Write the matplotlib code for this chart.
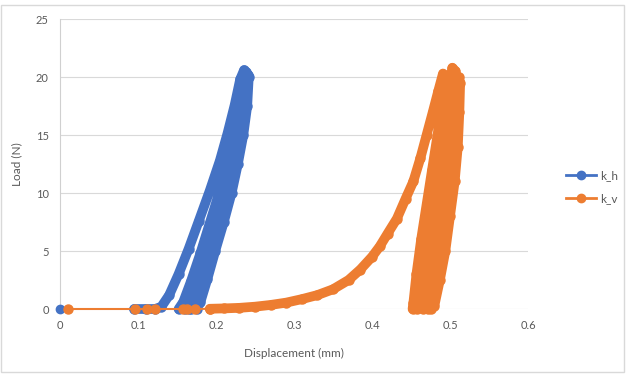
import matplotlib.pyplot as plt
from matplotlib.lines import Line2D
from matplotlib.patches import Rectangle

# k_h (start point, then loading / unloading cycles)
kh_x = [0.0, 0.095, 0.11, 0.122, 0.13,
        0.14, 0.152, 0.165, 0.178, 0.192, 0.205, 0.215, 0.224, 0.231, 0.236,
        0.241, 0.238, 0.232, 0.225, 0.217, 0.207, 0.196, 0.186, 0.178, 0.172, 0.165,
        0.152, 0.158, 0.168, 0.18, 0.192, 0.204, 0.214, 0.223, 0.23, 0.236,
        0.24, 0.236, 0.229, 0.221, 0.212, 0.201, 0.19, 0.181, 0.174, 0.168,
        0.16, 0.166, 0.175, 0.186, 0.198, 0.209, 0.219, 0.227, 0.234, 0.239,
        0.242, 0.24, 0.235, 0.228, 0.22, 0.21, 0.199, 0.189, 0.18, 0.175]
kh_y = [0.0, 0.0, 0.0, 0.0, 0.2,
        1.2, 3.0, 5.2, 7.6, 10.2, 12.8, 15.2, 17.6, 19.8, 20.6,
        20.2, 17.5, 15.0, 12.5, 10.0, 7.5, 5.0, 2.8, 1.0, 0.1, 0.0,
        0.0, 0.6, 2.4, 4.8, 7.4, 10.0, 12.6, 15.0, 17.5, 20.2,
        19.8, 17.0, 14.5, 12.0, 9.5, 7.0, 4.6, 2.4, 0.6, 0.0,
        0.0, 1.0, 2.8, 5.2, 7.8, 10.4, 13.0, 15.6, 18.2, 20.4,
        20.0, 17.5, 15.0, 12.5, 10.0, 7.5, 5.0, 2.6, 0.6, 0.0]

# k_v
kv_x = [0.01, 0.096, 0.111, 0.122, 0.158, 0.163, 0.173, 0.192, 0.21, 0.23,
        0.25, 0.27, 0.29, 0.31, 0.33, 0.35, 0.37, 0.385, 0.4, 0.41,
        0.42, 0.432, 0.443, 0.453, 0.462, 0.47, 0.478, 0.485, 0.491,
        0.49, 0.484, 0.477, 0.47, 0.463, 0.457, 0.453, 0.452,
        0.458, 0.462, 0.468, 0.475, 0.483, 0.49, 0.497, 0.503,
        0.507, 0.508, 0.505, 0.5, 0.494, 0.488, 0.481, 0.476, 0.472, 0.466,
        0.47, 0.477, 0.485, 0.493, 0.5, 0.506, 0.511,
        0.513, 0.512, 0.51, 0.506, 0.5, 0.494, 0.487, 0.48, 0.475]
kv_y = [0.0, 0.0, 0.0, 0.0, 0.0, 0.0, 0.0, 0.02, 0.05, 0.1,
        0.2, 0.35, 0.55, 0.85, 1.2, 1.7, 2.5, 3.4, 4.5, 5.4,
        6.5, 7.8, 9.5, 11.0, 13.0, 15.0, 17.0, 18.8, 20.3,
        18.0, 15.0, 12.0, 9.0, 6.0, 3.0, 0.5, 0.0,
        0.0, 2.5, 5.5, 8.5, 12.0, 15.0, 18.0, 20.8,
        20.5, 18.0, 15.0, 12.0, 9.0, 6.0, 3.0, 0.5, 0.0, 0.0,
        2.0, 5.0, 8.5, 12.0, 15.0, 18.0, 20.0,
        19.5, 17.0, 14.0, 11.0, 8.0, 5.0, 2.5, 0.3, 0.0]

x_ticks = [0, 0.1, 0.2, 0.3, 0.4, 0.5, 0.6]
x_labels = ['0', '0.1', '0.2', '0.3', '0.4', '0.5', '0.6']
y_ticks = [0, 5, 10, 15, 20, 25]

blue = '#4472c4'
orange = '#ed7d31'
grey = '#595959'

plt.rcParams['font.family'] = ['Lato', 'DejaVu Sans']

fig = plt.figure(figsize=(6.26, 3.75), dpi=100)
ax = fig.add_axes([60 / 626, 66 / 375, 468 / 626, 290 / 375])

band = dict(lw=7, marker='o', ms=6.5, solid_capstyle='round',
            solid_joinstyle='round', clip_on=False)
# k_h: lone start point, then the dense cycles
ax.plot(kh_x[:1], kh_y[:1], color=blue, marker='o', ms=6, lw=0,
        clip_on=False, zorder=3)
ax.plot(kh_x[1:], kh_y[1:], color=blue, zorder=3, **band)
# k_v: thin flat start, then the dense part
ax.plot(kv_x[:8], kv_y[:8], color=orange, lw=1.5, marker='o', ms=6.5,
        clip_on=False, zorder=4)
ax.plot(kv_x[7:], kv_y[7:], color=orange, zorder=4, **band)

ax.set_xlim(0, 0.6)
ax.set_ylim(0, 25)
ax.set_xticks(x_ticks)
ax.set_xticklabels(x_labels)
ax.set_yticks(y_ticks)
ax.grid(axis='y', color='#d9d9d9', lw=0.8)
ax.set_axisbelow(True)
for s in ['top', 'right', 'bottom']:
    ax.spines[s].set_visible(False)
ax.spines['left'].set_color('#d0d0d0')
ax.spines['left'].set_linewidth(0.8)
ax.tick_params(length=0, colors=grey, labelsize=8, pad=8)

ax.set_xlabel('Displacement (mm)', color=grey, fontsize=8.5, labelpad=12)
ax.set_ylabel('Load (N)', color=grey, fontsize=8.5, labelpad=10)

handles = [Line2D([], [], color=blue, lw=2, marker='o', ms=6),
           Line2D([], [], color=orange, lw=2, marker='o', ms=6)]
fig.legend(handles, ['k_h', 'k_v'], loc='center left',
           bbox_to_anchor=(555 / 626, 188 / 375), frameon=False,
           fontsize=8.5, labelcolor=grey, handlelength=2.6,
           handletextpad=0.3, labelspacing=1.0)

fig.patches.append(Rectangle((0.5 / 626, 3 / 375), 623 / 626, 367 / 375,
                             transform=fig.transFigure, fill=False,
                             edgecolor='#d9d9d9', lw=1))

fig.savefig('out.png', dpi=100)
